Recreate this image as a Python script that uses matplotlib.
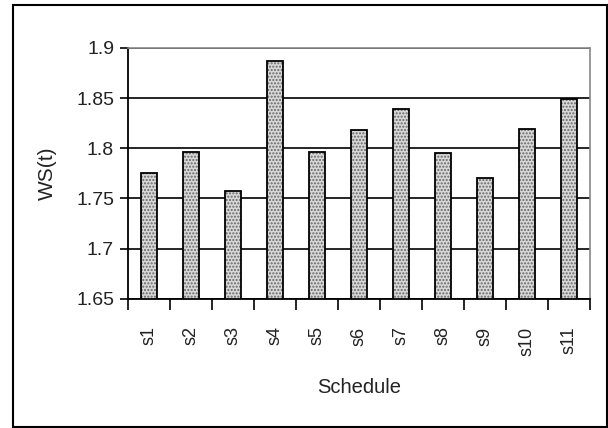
import matplotlib.pyplot as plt
import numpy as np
from matplotlib.patches import Rectangle

plt.rcParams['font.family'] = ['Liberation Sans', 'DejaVu Sans']

schedules = ['s1', 's2', 's3', 's4', 's5', 's6', 's7', 's8', 's9', 's10', 's11']
ws = [1.775, 1.796, 1.757, 1.887, 1.796, 1.818, 1.8395, 1.795, 1.770, 1.8195, 1.849]

fig = plt.figure(figsize=(6.08, 4.28), dpi=100)
# outer chart border
fig.patches.append(Rectangle((13 / 608, 1 / 428), 594 / 608, 422 / 428,
                             transform=fig.transFigure, fill=False,
                             edgecolor='black', linewidth=1.5))

ax = fig.add_axes([128 / 608, 1 - 298.7 / 428, 462 / 608, 250.7 / 428])
x = np.arange(len(schedules))

# patterned fill, then black outline on top
ax.bar(x, np.array(ws) - 1.65, bottom=1.65, width=0.36, color='#d8d8d8',
       edgecolor='#666666', hatch='.....', linewidth=0, zorder=3)
ax.bar(x, np.array(ws) - 1.65, bottom=1.65, width=0.36, fill=False,
       edgecolor='black', linewidth=1.3, zorder=4)

ax.set_xlim(-0.5, len(schedules) - 0.5)
ax.set_ylim(1.65, 1.9)
ax.set_yticks([1.65, 1.7, 1.75, 1.8, 1.85, 1.9])
ax.set_yticklabels(['1.65', '1.7', '1.75', '1.8', '1.85', '1.9'])
ax.yaxis.grid(True, color='black', linewidth=1.2, zorder=1)
ax.set_axisbelow(True)

ax.set_xticks(x)
ax.set_xticklabels(schedules, rotation=90)
ax.set_xticks(np.arange(-0.5, len(schedules)), minor=True)
ax.tick_params(axis='x', which='major', length=0, pad=20, labelsize=13, labelcolor='#222222')
ax.tick_params(axis='x', which='minor', length=8, width=1.2, direction='out')
ax.tick_params(axis='y', length=6, width=1.2, direction='out', pad=4,
               labelsize=14, labelcolor='#222222')

for s in ['top', 'right']:
    ax.spines[s].set_linestyle((0, (1, 1)))
    ax.spines[s].set_color('#888888')
    ax.spines[s].set_linewidth(1.2)
for s in ['left', 'bottom']:
    ax.spines[s].set_linewidth(1.3)

ax.set_ylabel('WS(t)', fontsize=15, color='#222222', labelpad=14)
ax.set_xlabel('Schedule', fontsize=14.5, color='#222222', labelpad=16)

fig.savefig('out.png', dpi=100)
